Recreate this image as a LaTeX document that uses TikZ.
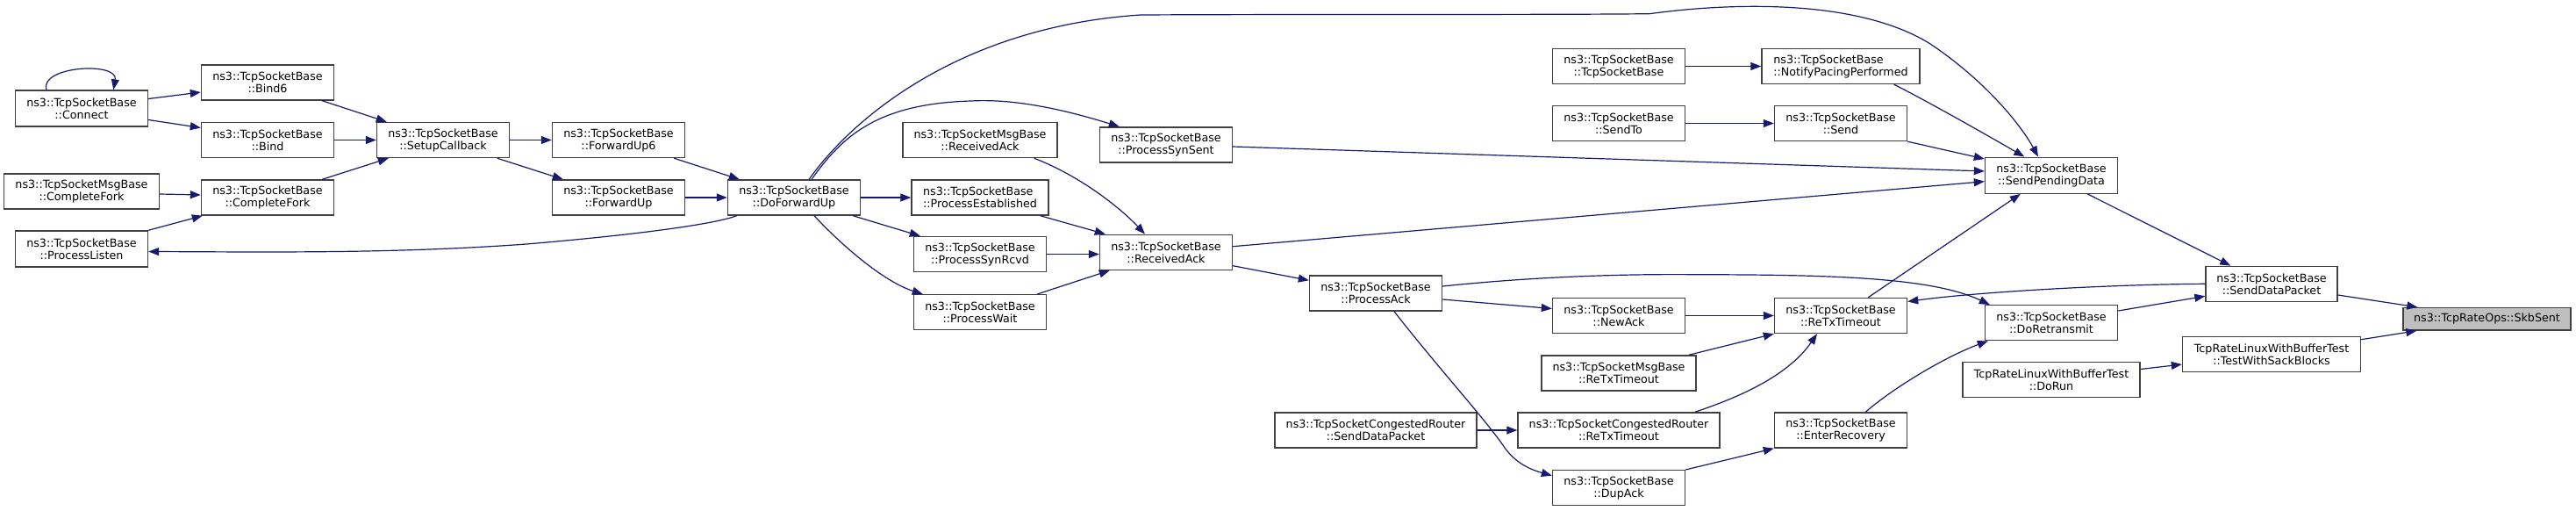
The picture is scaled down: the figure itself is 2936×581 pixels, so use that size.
\documentclass[tikz,border=0pt]{standalone}
\usepackage{fontspec}
\setmainfont{DejaVu Sans}
\usetikzlibrary{arrows.meta,calc}
\definecolor{edgec}{HTML}{191970}
\definecolor{boxc}{HTML}{404040}
\definecolor{hlfill}{HTML}{BFBFBF}
\begin{document}
\begin{tikzpicture}[x=1pt,y=-1pt,
  box/.style={draw=boxc, line width=1.4pt, fill=white, inner sep=0pt,
    minimum height=40pt, minimum width=151pt, align=center,
    font=\fontsize{12.7}{14}\selectfont},
  lbox/.style={box, align=left},
  hlbox/.style={box, fill=hlfill, minimum height=25.5pt},
  e/.style={draw=edgec, line width=1.2pt, -{Triangle[length=12pt,width=9pt]}}]
\fill[white] (0,0) rectangle (2936,581);
\useasboundingbox (0,0) rectangle (2936,581);

% column M
\node[box, minimum height=41pt] (connect) at (93,123.5) {ns3::TcpSocketBase\\::Connect};
\node[box, minimum width=177pt] (msgcf) at (93,218) {ns3::TcpSocketMsgBase\\::CompleteFork};
\node[box, minimum height=41pt] (plisten) at (93,283.5) {ns3::TcpSocketBase\\::ProcessListen};
% column L
\node[box] (bind6) at (305,94) {ns3::TcpSocketBase\\::Bind6};
\node[box] (bind) at (305,159.5) {ns3::TcpSocketBase\\::Bind};
\node[box] (cfork) at (305,225) {ns3::TcpSocketBase\\::CompleteFork};
% column K
\node[box] (setupcb) at (505,159.5) {ns3::TcpSocketBase\\::SetupCallback};
% column J
\node[box] (fwup6) at (705,159.5) {ns3::TcpSocketBase\\::ForwardUp6};
\node[box] (fwup) at (705,225) {ns3::TcpSocketBase\\::ForwardUp};
% column I
\node[box] (dofwup) at (905,225) {ns3::TcpSocketBase\\::DoForwardUp};
% column H
\node[box, minimum width=176pt] (msgrack) at (1117,159.5) {ns3::TcpSocketMsgBase\\::ReceivedAck};
\node[lbox, minimum width=156pt] (pest) at (1117,225) {ns3::TcpSocketBase\\::ProcessEstablished};
\node[box] (psynrcvd) at (1117,289.5) {ns3::TcpSocketBase\\::ProcessSynRcvd};
\node[box] (pwait) at (1117,355.7) {ns3::TcpSocketBase\\::ProcessWait};
% column G
\node[box] (psynsent) at (1329,165) {ns3::TcpSocketBase\\::ProcessSynSent};
\node[box] (rack) at (1329,287.3) {ns3::TcpSocketBase\\::ReceivedAck};
% column F
\node[box] (pack) at (1568,334) {ns3::TcpSocketBase\\::ProcessAck};
\node[box, minimum width=230pt] (crsdp) at (1568,490) {ns3::TcpSocketCongestedRouter\\::SendDataPacket};
% column E
\node[box] (tsbctor) at (1845,75.5) {ns3::TcpSocketBase\\::TcpSocketBase};
\node[box] (sendto) at (1845,140.5) {ns3::TcpSocketBase\\::SendTo};
\node[box] (newack) at (1845,359.5) {ns3::TcpSocketBase\\::NewAck};
\node[box, minimum width=176pt] (msgrtx) at (1845,425) {ns3::TcpSocketMsgBase\\::ReTxTimeout};
\node[box, minimum width=230pt] (crrtx) at (1845,490) {ns3::TcpSocketCongestedRouter\\::ReTxTimeout};
\node[box] (dupack) at (1845,555.7) {ns3::TcpSocketBase\\::DupAck};
% column D
\node[lbox, minimum width=180pt] (notify) at (2098,75.5) {ns3::TcpSocketBase\\::NotifyPacingPerformed};
\node[box] (send) at (2098,140.5) {ns3::TcpSocketBase\\::Send};
\node[box] (rtx) at (2098,359.5) {ns3::TcpSocketBase\\::ReTxTimeout};
\node[box] (enterrec) at (2098,490) {ns3::TcpSocketBase\\::EnterRecovery};
% column C
\node[box, minimum height=41pt] (spd) at (2338,199.7) {ns3::TcpSocketBase\\::SendPendingData};
\node[box] (doretx) at (2338,367.7) {ns3::TcpSocketBase\\::DoRetransmit};
\node[box, minimum width=202pt] (dorun) at (2338,432.5) {TcpRateLinuxWithBufferTest\\::DoRun};
% column B
\node[box, minimum width=150pt] (sdp) at (2589,323.3) {ns3::TcpSocketBase\\::SendDataPacket};
\node[box, minimum width=203pt] (twsb) at (2589,403.5) {TcpRateLinuxWithBufferTest\\::TestWithSackBlocks};
% column A
\node[hlbox, minimum width=191pt] (skb) at (2834.5,363.3) {ns3::TcpRateOps::SkbSent};

% edges
\draw[e] ([xshift=36pt]connect.north west) .. controls (45,75) and (135,70) .. ([xshift=112.5pt]connect.north west);
\draw[e] ([yshift=11pt]connect.east) -- ([yshift=-11pt]bind6.west);
\draw[e] ([yshift=-13pt]connect.east) -- ([yshift=14pt]bind.west);
\draw[e] ([xshift=-14pt]bind6.south east) -- ([xshift=12pt]setupcb.north west);
\draw[e] (bind.east) -- (setupcb.west);
\draw[e] ([xshift=-14pt]cfork.north east) -- ([xshift=14pt]setupcb.south west);
\draw[e] ([yshift=-3pt]msgcf.east) -- ([yshift=3pt]cfork.west);
\draw[e] (plisten.north east) -- ([xshift=2pt]cfork.south west);
\draw[e] ([xshift=11pt]dofwup.south west) .. controls (815,255) and (730,267) .. (600,278)
   .. controls (450,289) and (300,287) .. ([yshift=-3pt]plisten.east);
\draw[e] (setupcb.east) -- (fwup6.west);
\draw[e] ([xshift=-14.5pt]setupcb.south east) -- ([xshift=13pt]fwup.north west);
\draw[e] ([xshift=-13pt]fwup6.south east) -- ([xshift=14pt]dofwup.north west);
\draw[e] (fwup.east) -- (dofwup.west);
\draw[e] (dofwup.east) -- (pest.west);
\draw[e] ([xshift=-9pt]dofwup.south east) -- ([xshift=8pt]psynrcvd.north west);
\draw[e] ([xshift=23pt]dofwup.south) .. controls (955,275) and (1005,320) .. ([xshift=11pt]pwait.north west);
\draw[e] ([xshift=20pt]dofwup.north) .. controls (960,155) and (1000,118) .. (1107,115)
   .. controls (1160,112) and (1220,127) .. ([xshift=23pt]psynsent.north west);
\draw[e] ([xshift=17pt]dofwup.north) .. controls (975,130) and (1100,30) .. (1300,17)
   .. controls (1500,16) and (1750,17) .. (1880,15.7)
   .. controls (1980,2) and (2120,0) .. (2200,50)
   .. controls (2260,90) and (2302,140) .. ([xshift=-15pt]spd.north);
\draw[e] ([xshift=-27pt]msgrack.south east) .. controls (1230,200) and (1275,235) .. ([xshift=-24pt]rack.north);
\draw[e] ([xshift=-10pt]pest.south east) -- ([xshift=7pt]rack.north west);
\draw[e] (psynrcvd.east) -- (psynrcvd.east -| rack.west);
\draw[e] ([xshift=-11pt]pwait.north east) -- ([xshift=12pt]rack.south west);
\draw[e] ([yshift=-2pt]psynsent.east) -- ([yshift=4.7pt]spd.west);
\draw[e] ([yshift=6.6pt]rack.east) -- ([yshift=-7pt]spd.west);
\draw[e] ([yshift=-15.4pt]rack.east) -- ([yshift=14.7pt]pack.west);
\draw[e] (tsbctor.east) -- (notify.west);
\draw[e] (sendto.east) -- (send.west);
\draw[e] ([xshift=-30pt]notify.south east) .. controls (2200,117) and (2270,157) .. ([xshift=45.5pt]spd.north west);
\draw[e] (send.south east) -- ([yshift=-2.5pt]spd.north west);
\draw[e] ([yshift=8pt]pack.east) .. controls (1750,315) and (1850,312) .. (1930,312.7)
   .. controls (2080,313) and (2200,315) .. ([xshift=6pt]doretx.north west);
\draw[e] ([yshift=-7pt]pack.east) -- ([yshift=8pt]newack.west);
\draw[e] ([xshift=21pt]pack.south) .. controls (1640,420) and (1695,480) .. (1715,510)
   .. controls (1728,528) and (1745,535) .. ([yshift=14pt]dupack.west);
\draw[e] (crsdp.east) -- (crrtx.west);
\draw[e] (newack.east) -- (rtx.west);
\draw[e] ([xshift=-9pt]msgrtx.north east) -- (rtx.south west);
\draw[e] ([xshift=-29pt]crrtx.north east) .. controls (1990,450) and (2040,425) .. ([xshift=-27pt]rtx.south);
\draw[e] (dupack.north east) -- (enterrec.south west);
\draw[e] ([xshift=-45pt]rtx.north east) -- ([xshift=41pt]spd.south west);
\draw[e] ([xshift=-35pt]spd.south east) -- ([xshift=29pt]sdp.north west);
\draw[e] (sdp.west) .. controls (2400,324) and (2250,333) .. ([yshift=16pt]rtx.east);
\draw[e] ([yshift=13.7pt]doretx.east) -- ([yshift=-14pt]sdp.west);
\draw[e] ([xshift=-48pt]enterrec.north east) .. controls (2160,440) and (2220,405) .. ([xshift=4pt]doretx.south west);
\draw[e] ([yshift=12pt]dorun.east) -- ([yshift=-11.5pt]twsb.west);
\draw[e] ([yshift=-12.7pt]sdp.east) -- ([xshift=17pt]skb.north west);
\draw[e] ([yshift=16.8pt]twsb.east) -- ([xshift=16pt]skb.south west);
\end{tikzpicture}
\end{document}
